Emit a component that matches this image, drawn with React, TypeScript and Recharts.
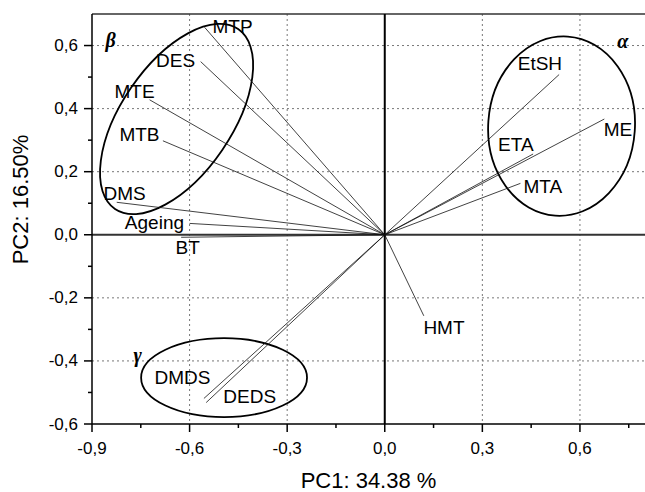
import React from "react";
import {
  ScatterChart,
  Scatter,
  XAxis,
  YAxis,
  CartesianGrid,
  ReferenceLine,
  ReferenceArea,
  Label,
} from "recharts";

// loadings (PC1, PC2)
const VARS = ["MTP", "DES", "MTE", "MTB", "DMS", "Ageing", "BT", "EtSH", "ETA", "ME", "MTA", "HMT", "DMDS", "DEDS"];
const PC1 = [-0.554, -0.566, -0.723, -0.682, -0.824, -0.6, -0.626, 0.536, 0.456, 0.675, 0.417, 0.12, -0.556, -0.549];
const PC2 = [0.658, 0.549, 0.428, 0.298, 0.103, 0.036, -0.008, 0.508, 0.256, 0.367, 0.163, -0.257, -0.519, -0.532];

// where each variable name sits (data units)
const LABEL_X = [-0.468, -0.643, -0.769, -0.754, -0.8, -0.708, -0.606, 0.477, 0.403, 0.717, 0.486, 0.182, -0.622, -0.415];
const LABEL_Y = [0.66, 0.552, 0.454, 0.317, 0.13, 0.038, -0.041, 0.543, 0.286, 0.333, 0.152, -0.295, -0.454, -0.514];

// cluster ellipses: unrotated extent in data units + tilt in degrees
const GROUPS = ["α", "β", "γ"];
const GROUP_LABEL_X = [0.732, -0.843, -0.76];
const GROUP_LABEL_Y = [0.613, 0.616, -0.381];
const ELL_X1 = [0.318, -0.975, -0.749];
const ELL_X2 = [0.769, -0.305, -0.239];
const ELL_Y1 = [0.06, 0.192, -0.578];
const ELL_Y2 = [0.629, 0.542, -0.328];
const ELL_TILT = [4, -55.6, 0];

const X_TICKS = [-0.9, -0.75, -0.6, -0.45, -0.3, -0.15, 0, 0.15, 0.3, 0.45, 0.6, 0.75];
const Y_TICKS = [-0.6, -0.5, -0.4, -0.3, -0.2, -0.1, 0, 0.1, 0.2, 0.3, 0.4, 0.5, 0.6];
const X_GRID = [-0.6, -0.3, 0.3, 0.6];
const Y_GRID = [-0.4, -0.2, 0.2, 0.4, 0.6];

const FONT = '"Liberation Sans", Arial, Helvetica, sans-serif';
const TICK_SIZE = 8;
const TICK_MARGIN = 2;

const fmt = (v: number) => v.toFixed(1).replace(".", ",");

function XTick(props: any) {
  const { x, y, payload } = props;
  const v = payload.value as number;
  const major = Math.abs(Math.round(v * 100) % 30) === 0;
  const y0 = y - TICK_SIZE - TICK_MARGIN;
  return (
    <g>
      <line x1={x} x2={x} y1={y0} y2={y0 + (major ? 8 : 4)} stroke="#000" strokeWidth={1.5} />
      {major && (
        <text x={x} y={y0 + 24} textAnchor="middle" dominantBaseline="central" fontSize={17} fill="#000">
          {fmt(v)}
        </text>
      )}
    </g>
  );
}

function YTick(props: any) {
  const { x, y, payload } = props;
  const v = payload.value as number;
  const major = Math.abs(Math.round(v * 10) % 2) === 0;
  const x0 = x + TICK_SIZE + TICK_MARGIN;
  return (
    <g>
      <line x1={x0} x2={x0 - (major ? 8 : 4)} y1={y} y2={y} stroke="#000" strokeWidth={1.5} />
      {major && (
        <text x={x0 - 14} y={y} textAnchor="end" dominantBaseline="central" fontSize={17} fill="#000">
          {fmt(v)}
        </text>
      )}
    </g>
  );
}

const ellipseShape = (tilt: number) => (p: any) => {
  const cx = p.x + p.width / 2;
  const cy = p.y + p.height / 2;
  return (
    <ellipse
      cx={cx}
      cy={cy}
      rx={Math.abs(p.width) / 2}
      ry={Math.abs(p.height) / 2}
      transform={`rotate(${tilt} ${cx} ${cy})`}
      fill="none"
      stroke="#000"
      strokeWidth={1.8}
    />
  );
};

const noDot = () => <g />;

export default function App() {
  const nameData = VARS.map((name, i) => ({ x: LABEL_X[i], y: LABEL_Y[i], name }));
  const groupData = GROUPS.map((name, i) => ({ x: GROUP_LABEL_X[i], y: GROUP_LABEL_Y[i], name }));

  return (
    <div style={{ position: "absolute", left: 0, top: 0, fontFamily: FONT, background: "#fff" }}>
      <ScatterChart width={645} height={492} margin={{ top: 14, right: 0, bottom: 0, left: 0 }}>
        <CartesianGrid
          stroke="#777"
          strokeDasharray="2 3"
          verticalValues={X_GRID}
          horizontalValues={Y_GRID}
        />
        <XAxis
          type="number"
          dataKey="x"
          domain={[-0.9, 0.8]}
          ticks={X_TICKS}
          interval={0}
          allowDataOverflow
          height={68}
          tickSize={TICK_SIZE}
          tickMargin={TICK_MARGIN}
          tickLine={false}
          tick={<XTick />}
          axisLine={{ stroke: "#000", strokeWidth: 1.5 }}
        >
          <Label
            content={(p: any) => {
              const vb = p.viewBox;
              return (
                <text
                  x={vb.x + vb.width / 2}
                  y={vb.y + 56}
                  textAnchor="middle"
                  dominantBaseline="central"
                  fontSize={22}
                  fill="#000"
                >
                  PC1: 34.38 %
                </text>
              );
            }}
          />
        </XAxis>
        <YAxis
          type="number"
          dataKey="y"
          domain={[-0.6, 0.7]}
          ticks={Y_TICKS}
          interval={0}
          allowDataOverflow
          width={92}
          tickSize={TICK_SIZE}
          tickMargin={TICK_MARGIN}
          tickLine={false}
          tick={<YTick />}
          axisLine={{ stroke: "#000", strokeWidth: 1.5 }}
        >
          <Label
            content={(p: any) => {
              const vb = p.viewBox;
              const cx = vb.x + 20;
              const cy = vb.y + vb.height / 2 - 19.5;
              return (
                <text
                  x={cx}
                  y={cy}
                  textAnchor="middle"
                  dominantBaseline="central"
                  fontSize={22}
                  fill="#000"
                  transform={`rotate(-90 ${cx} ${cy})`}
                >
                  PC2: 16.50%
                </text>
              );
            }}
          />
        </YAxis>
        <ReferenceLine y={0.7} stroke="#333" strokeWidth={1.5} />
        <ReferenceLine y={0} stroke="#333" strokeWidth={2} />
        <ReferenceLine x={0} stroke="#000" strokeWidth={2} />
        {GROUPS.map((g, i) => (
          <ReferenceArea
            key={g}
            x1={ELL_X1[i]}
            x2={ELL_X2[i]}
            y1={ELL_Y1[i]}
            y2={ELL_Y2[i]}
            ifOverflow="visible"
            shape={ellipseShape(ELL_TILT[i])}
          />
        ))}
        {VARS.map((v, i) => (
          <Scatter
            key={v}
            name={v}
            data={[
              { x: 0, y: 0 },
              { x: PC1[i], y: PC2[i] },
            ]}
            line={{ stroke: "#111", strokeWidth: 0.8 }}
            shape={noDot}
            isAnimationActive={false}
          />
        ))}
        <Scatter
          name="labels"
          data={nameData}
          isAnimationActive={false}
          shape={(p: any) => (
            <text x={p.cx} y={p.cy} textAnchor="middle" dominantBaseline="central" fontSize={19} fill="#000">
              {p.payload.name}
            </text>
          )}
        />
        <Scatter
          name="groups"
          data={groupData}
          isAnimationActive={false}
          shape={(p: any) => (
            <text
              x={p.cx}
              y={p.cy}
              textAnchor="middle"
              dominantBaseline="central"
              fontSize={20}
              fontStyle="italic"
              fontWeight="bold"
              fontFamily='"Liberation Serif", "Times New Roman", serif'
              fill="#000"
            >
              {p.payload.name}
            </text>
          )}
        />
      </ScatterChart>
    </div>
  );
}
